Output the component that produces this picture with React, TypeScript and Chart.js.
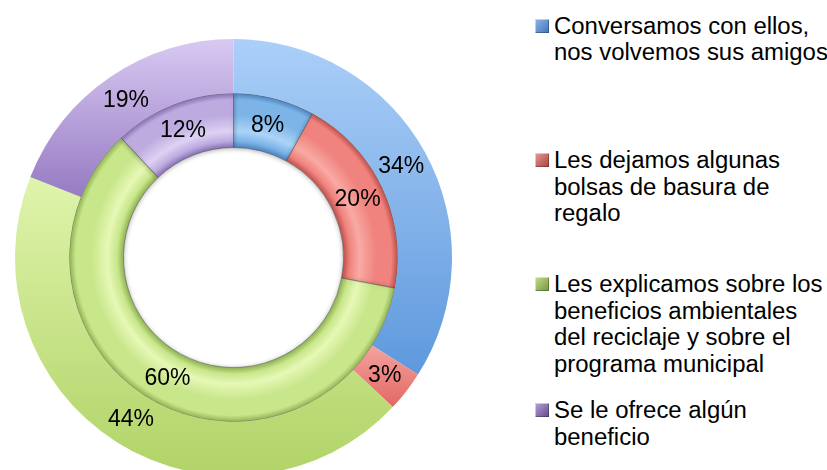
import React, { useEffect, useRef } from "react";
import { Chart, registerables } from "chart.js";
Chart.register(...registerables);

const categories = [
  "Conversamos con ellos,\nnos volvemos sus amigos",
  "Les dejamos algunas\nbolsas de basura de\nregalo",
  "Les explicamos sobre los\nbeneficios ambientales\ndel reciclaje y sobre el\nprograma municipal",
  "Se le ofrece algún\nbeneficio",
];
const outerValues = [34, 3, 44, 19];
const innerValues = [8, 20, 60, 12];

// colours: outer ring vertical gradient stops, inner ring bevel colours [dark, light, base]
const outerStops: [number, string][][] = [
  [[0, "#abcff8"], [1, "#4788d4"]],
  [[0.7, "#f4a39e"], [0.86, "#e0605b"]],
  [[0.3, "#e0f5ad"], [1, "#b1d367"]],
  [[0, "#d8c9f2"], [0.34, "#9a7fc5"]],
];
const innerColors = [
  ["#4f86c2", "#acd4f7", "#7db4e8"],
  ["#c0534e", "#f9aaa4", "#f0837d"],
  ["#93b557", "#e6f8b6", "#c8e68a"],
  ["#8a74b4", "#ddd2f3", "#bdabe0"],
];
const markerColors = [
  ["#8fb7e6", "#3f74b8"],
  ["#e89a98", "#a84440"],
  ["#c4dd8c", "#76963c"],
  ["#b5a2d6", "#644a8e"],
];

const OUTER_R = 218.5;
const CUT = 110;

const labelPlugin = {
  id: "ringLabels",
  beforeDatasetDraw(chart: any, args: any) {
    if (args.index === 1) {
      const ctx = chart.ctx;
      ctx.save();
      ctx.shadowColor = "rgba(0,0,0,0.3)";
      ctx.shadowBlur = 5;
      ctx.shadowOffsetY = 1;
    }
  },
  afterDatasetDraw(chart: any, args: any) {
    if (args.index === 1) chart.ctx.restore();
  },
  afterDatasetsDraw(chart: any) {
    const ctx = chart.ctx;
    ctx.save();
    ctx.font = '23px "Liberation Sans", Arial, sans-serif';
    ctx.fillStyle = "#000";
    ctx.textAlign = "center";
    ctx.textBaseline = "middle";
    chart.data.datasets.forEach((ds: any, di: number) => {
      const meta = chart.getDatasetMeta(di);
      meta.data.forEach((arc: any, i: number) => {
        const p = arc.getCenterPoint();
        ctx.fillText(ds.data[i] + "%", p.x, p.y + 1);
      });
    });
    ctx.restore();
  },
};

export default function App() {
  const ref = useRef<HTMLCanvasElement>(null);
  useEffect(() => {
    if (!ref.current) return;
    const outerBg = (c: any) => {
      const area = c.chart.chartArea;
      const stops = outerStops[c.dataIndex];
      if (!area) return stops[0][1];
      const cy = (area.top + area.bottom) / 2;
      const g = c.chart.ctx.createLinearGradient(0, cy - OUTER_R, 0, cy + OUTER_R);
      stops.forEach(([t, col]) => g.addColorStop(t, col));
      return g;
    };
    const innerBg = (c: any) => {
      const area = c.chart.chartArea;
      const [dark, light, base] = innerColors[c.dataIndex];
      if (!area) return base;
      const cx = (area.left + area.right) / 2;
      const cy = (area.top + area.bottom) / 2;
      const mid = (OUTER_R + CUT) / 2;
      const g = c.chart.ctx.createRadialGradient(cx, cy, CUT, cx, cy, mid);
      g.addColorStop(0, dark);
      g.addColorStop(0.12, base);
      g.addColorStop(0.3, light);
      g.addColorStop(0.6, base);
      g.addColorStop(0.88, base);
      g.addColorStop(1, dark);
      return g;
    };
    const chart = new Chart(ref.current, {
      type: "doughnut",
      data: {
        labels: categories,
        datasets: [
          {
            data: outerValues,
            backgroundColor: outerBg,
            borderWidth: 0,
          },
          {
            data: innerValues,
            backgroundColor: innerBg,
            borderWidth: 1,
            borderColor: "rgba(70,70,70,0.45)",
          },
        ],
      },
      options: {
        animation: false,
        responsive: false,
        maintainAspectRatio: false,
        events: [],
        radius: OUTER_R,
        cutout: ((CUT / OUTER_R) * 100).toFixed(3) + "%",
        layout: { padding: 0 },
        plugins: {
          legend: { display: false },
          tooltip: { enabled: false },
          title: { display: false },
        },
      } as any,
      plugins: [labelPlugin],
    });
    return () => chart.destroy();
  }, []);

  const tops = [12.5, 147, 271, 397];

  return (
    <div
      style={{
        position: "fixed",
        left: 0,
        top: 0,
        width: 827,
        height: 470,
        overflow: "hidden",
        background: "#fff",
      }}
    >
      <canvas
        ref={ref}
        width={467}
        height={515}
        style={{ position: "absolute", left: 0, top: 0, width: 467, height: 515 }}
      />
      {categories.map((cat, i) => (
        <div
          key={i}
          style={{
            position: "absolute",
            left: 535,
            top: tops[i],
            fontFamily: '"Liberation Sans", Arial, sans-serif',
            fontSize: 23,
            lineHeight: "26.5px",
            color: "#000",
          }}
        >
          <div
            style={{
              position: "absolute",
              left: 0,
              top: 6,
              width: 14,
              height: 14,
              background: `linear-gradient(135deg, ${markerColors[i][0]}, ${markerColors[i][1]})`,
              boxShadow: "inset 1px 1px 0 rgba(255,255,255,0.5), inset -1px -1px 0 rgba(0,0,0,0.25)",
            }}
          />
          <div
            style={{
              marginLeft: 19,
              whiteSpace: "pre",
              transform: "scaleX(1.04)",
              transformOrigin: "left top",
            }}
          >
            {cat}
          </div>
        </div>
      ))}
    </div>
  );
}
